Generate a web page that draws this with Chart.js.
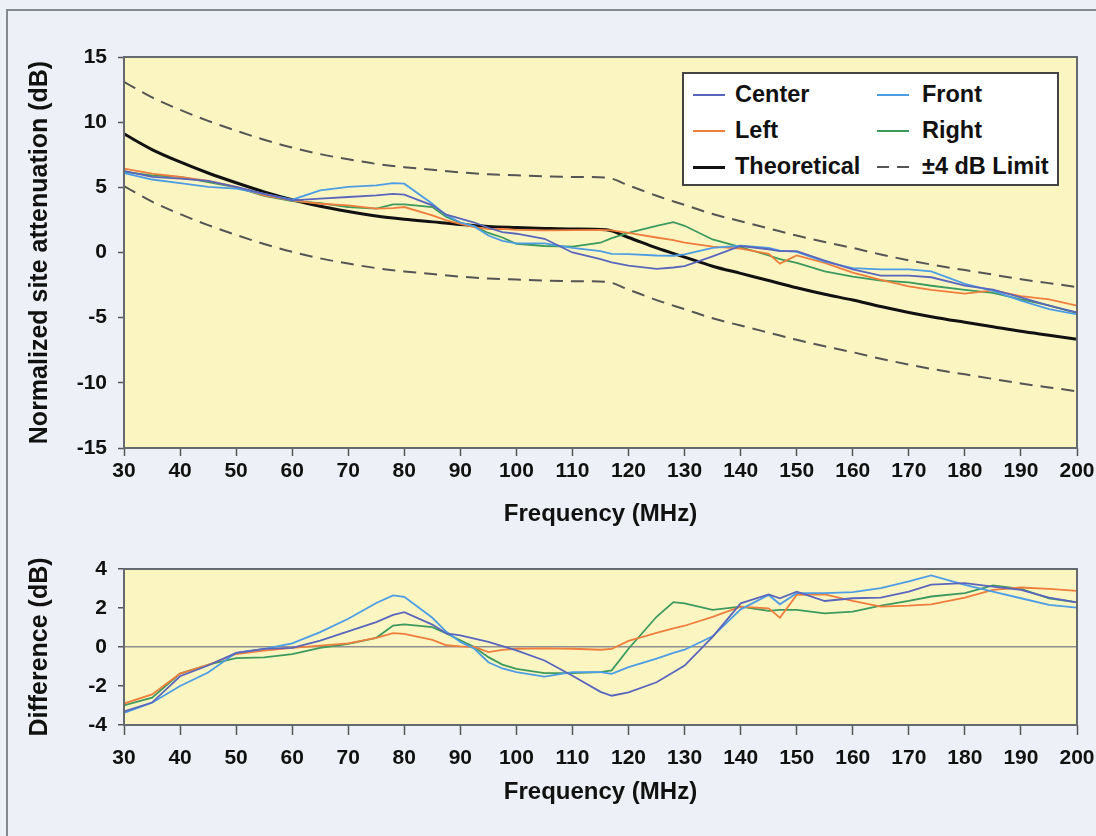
<!DOCTYPE html>
<html><head><meta charset="utf-8">
<script src="https://cdn.jsdelivr.net/npm/chart.js@4.4.1/dist/chart.umd.min.js"></script>
<style>
html,body{margin:0;padding:0;background:#edf1f7;width:1096px;height:836px;overflow:hidden;font-family:"Liberation Sans",Arial,sans-serif;}
#frame{position:absolute;left:6px;top:9px;width:1100px;height:840px;border-top:2px solid #858a90;border-left:2px solid #858a90;}
#c1{position:absolute;left:0;top:0;}
#c2{position:absolute;left:0;top:545px;}
#legend{position:absolute;left:682px;top:72px;width:377px;height:114px;background:#fff;border:2px solid #444;box-sizing:border-box;}
.item{position:absolute;font:bold 23.5px "Liberation Sans",Arial,sans-serif;color:#111;height:30px;line-height:30px;white-space:nowrap;}
.sw{position:absolute;width:32px;height:2px;}
</style></head>
<body>
<div id="frame"></div>
<canvas id="c1" width="1096" height="540"></canvas>
<canvas id="c2" width="1096" height="270"></canvas>
<div id="legend"></div>
<script>
// ---------------- data ----------------
const freq = [30,35,40,45,50,55,60,65,70,75,78,80,85,87.5,90,92.5,95,97.5,100,105,110,115,117,120,125,128,130,135,140,145,147,150,155,160,165,170,174,180,185,190,195,200];

const theoFreq = [30,35,40,45,50,55,60,65,70,75,80,85,90,95,100,105,110,116,120,125,130,135,140,145,150,155,160,165,170,175,180,185,190,195,200];
const theoretical = [9.1,7.9,6.95,6.1,5.35,4.65,4.05,3.55,3.15,2.8,2.55,2.35,2.15,2.0,1.92,1.85,1.8,1.75,1.15,0.35,-0.35,-1.05,-1.6,-2.15,-2.7,-3.2,-3.65,-4.15,-4.6,-5.0,-5.35,-5.7,-6.05,-6.35,-6.65];
const limitUpper = [13.1,11.9,10.95,10.1,9.35,8.65,8.05,7.55,7.15,6.8,6.55,6.35,6.15,6.0,5.92,5.85,5.8,5.75,5.15,4.35,3.65,2.95,2.4,1.85,1.3,0.8,0.35,-0.15,-0.6,-1.0,-1.35,-1.7,-2.05,-2.35,-2.65];
const limitLower = [5.1,3.9,2.95,2.1,1.35,0.65,0.05,-0.45,-0.85,-1.2,-1.45,-1.65,-1.85,-2.0,-2.08,-2.15,-2.2,-2.25,-2.85,-3.65,-4.35,-5.05,-5.6,-6.15,-6.7,-7.2,-7.65,-8.15,-8.6,-9.0,-9.35,-9.7,-10.05,-10.35,-10.65];

const centerNSA = [6.26,5.8,5.67,5.49,5.03,4.5,4.0,4.13,4.26,4.38,4.5,4.44,3.62,2.9,2.6,2.3,1.9,1.56,1.44,1.05,0.0,-0.5,-0.75,-1.0,-1.26,-1.15,-1.05,-0.3,0.5,0.25,0.1,0.1,-0.62,-1.3,-1.77,-1.77,-1.9,-2.54,-2.85,-3.45,-4.08,-4.6];
const frontNSA  = [6.1,5.6,5.33,5.03,4.9,4.5,4.05,4.77,5.03,5.15,5.33,5.28,3.74,2.85,2.3,2.0,1.3,0.9,0.7,0.7,0.35,0.1,-0.1,-0.12,-0.23,-0.25,-0.15,0.35,0.52,0.35,0.15,0.05,-0.7,-1.2,-1.3,-1.3,-1.45,-2.4,-2.95,-3.7,-4.35,-4.75];
const leftNSA   = [6.44,6.05,5.8,5.49,5.03,4.38,4.0,3.74,3.62,3.36,3.4,3.49,2.85,2.46,2.2,1.95,1.8,1.82,1.74,1.7,1.72,1.74,1.7,1.5,1.15,0.95,0.75,0.45,0.3,-0.1,-0.85,-0.23,-0.8,-1.55,-2.1,-2.6,-2.87,-3.15,-2.9,-3.35,-3.6,-4.08];
const rightNSA  = [6.18,5.92,5.8,5.41,5.0,4.35,3.95,3.79,3.49,3.36,3.7,3.69,3.49,2.72,2.3,2.0,1.5,1.15,0.67,0.5,0.45,0.75,1.1,1.5,2.05,2.33,2.05,1.0,0.41,-0.23,-0.5,-0.8,-1.45,-1.85,-2.15,-2.3,-2.55,-2.87,-3.1,-3.6,-4.05,-4.65];

const centerDiff = [-3.3,-2.85,-1.5,-0.95,-0.3,-0.1,-0.05,0.33,0.8,1.28,1.65,1.79,1.15,0.7,0.6,0.43,0.26,0.05,-0.17,-0.69,-1.47,-2.3,-2.5,-2.33,-1.81,-1.3,-0.95,0.52,2.24,2.7,2.5,2.84,2.36,2.5,2.53,2.84,3.2,3.28,3.1,2.93,2.53,2.29];
const frontDiff  = [-3.38,-2.86,-2.0,-1.31,-0.3,-0.1,0.19,0.76,1.45,2.26,2.65,2.57,1.5,0.78,0.26,-0.09,-0.78,-1.1,-1.29,-1.52,-1.29,-1.29,-1.38,-1.03,-0.6,-0.3,-0.14,0.55,1.93,2.67,2.19,2.76,2.76,2.81,3.02,3.36,3.67,3.19,2.84,2.5,2.16,2.02];
const leftDiff   = [-2.9,-2.43,-1.36,-0.91,-0.36,-0.19,-0.05,0.07,0.19,0.47,0.71,0.67,0.36,0.09,0.03,0.0,-0.26,-0.15,-0.09,-0.07,-0.09,-0.14,-0.1,0.31,0.72,0.95,1.09,1.55,2.07,1.98,1.5,2.67,2.7,2.36,2.07,2.12,2.19,2.53,2.93,3.05,2.98,2.88];
const rightDiff  = [-3.0,-2.6,-1.36,-0.91,-0.57,-0.53,-0.36,-0.05,0.16,0.47,1.1,1.16,1.02,0.69,0.34,0.0,-0.52,-0.9,-1.12,-1.34,-1.34,-1.29,-1.2,-0.09,1.55,2.3,2.24,1.9,2.07,1.85,1.9,1.9,1.72,1.81,2.12,2.36,2.59,2.76,3.16,2.98,2.5,2.29];

const xTickValues = [30,40,50,60,70,80,90,100,110,120,130,140,150,160,170,180,190,200];
const yTicksTop = [-15,-10,-5,0,5,10,15];
const yTicksBottom = [-4,-2,0,2,4];
const seriesNames = ['Center','Front','Left','Right','Theoretical','\u00b14 dB Limit'];

// ---------------- styles ----------------
const COL = {Center:'#5a66bd', Front:'#4d9de6', Left:'#ef7e3c', Right:'#3d9a5e', Theoretical:'#111111', Limit:'#555555'};
const FONT = '"Liberation Sans", Arial, sans-serif';

function pts(xs, ys){ return xs.map((x,i)=>({x:x, y:ys[i]})); }

const plotFrame = {
  id:'plotFrame',
  beforeDraw(chart){
    const {ctx, chartArea:a} = chart;
    ctx.save(); ctx.fillStyle = '#fbf5c2';
    ctx.fillRect(a.left, a.top, a.right-a.left, a.bottom-a.top); ctx.restore();
  },
  afterDraw(chart){
    const {ctx, chartArea:a} = chart;
    ctx.save(); ctx.strokeStyle = '#666a6e'; ctx.lineWidth = 2;
    ctx.strokeRect(a.left, a.top, a.right-a.left, a.bottom-a.top); ctx.restore();
  }
};

function lineDS(label, data, color, width, dash, smooth){
  const ds = {label, data, borderColor:color, borderWidth:width, borderDash:dash||[], pointRadius:0, tension:0, fill:false};
  if (smooth){ ds.cubicInterpolationMode = 'monotone'; }
  return ds;
}

function xScale(axisH, tickLen, tickPad, titlePad){
  return {
    type:'linear', min:30, max:200,
    afterBuildTicks(s){ s.ticks = xTickValues.map(v=>({value:v})); },
    afterFit(s){ s.height = axisH; s.paddingLeft = 0; s.paddingRight = 0; },
    border:{display:false},
    grid:{drawOnChartArea:false, drawTicks:true, tickLength:tickLen, tickColor:'#555', tickWidth:1.5},
    ticks:{autoSkip:false, maxRotation:0, padding:tickPad, color:'#111', font:{family:FONT, weight:'bold', size:21}},
    title:{display:true, text:'Frequency (MHz)', color:'#111', padding:{top:0,bottom:titlePad}, font:{family:FONT, weight:'bold', size:24}}
  };
}

// ---------------- top chart ----------------
new Chart(document.getElementById('c1'), {
  type:'line',
  data:{datasets:[
    lineDS('Upper limit', pts(theoFreq, limitUpper), COL.Limit, 2, [13,8], true),
    lineDS('Lower limit', pts(theoFreq, limitLower), COL.Limit, 2, [13,8], true),
    lineDS('Center', pts(freq, centerNSA), COL.Center, 1.8),
    lineDS('Front', pts(freq, frontNSA), COL.Front, 1.8),
    lineDS('Left', pts(freq, leftNSA), COL.Left, 1.8),
    lineDS('Right', pts(freq, rightNSA), COL.Right, 1.8),
    lineDS('Theoretical', pts(theoFreq, theoretical), COL.Theoretical, 3, null, true)
  ]},
  options:{
    responsive:false, animation:false, devicePixelRatio:1,
    layout:{padding:{top:57, right:19, left:0, bottom:0}},
    plugins:{legend:{display:false}, tooltip:{enabled:false}},
    scales:{
      x: xScale(92, 8, 3, 11),
      y:{
        min:-15, max:15,
        afterBuildTicks(s){ s.ticks = yTicksTop.map(v=>({value:v})); },
        afterFit(s){ s.width = 124; },
        border:{display:false},
        grid:{drawOnChartArea:false, drawTicks:true, tickLength:6, tickColor:'#555', tickWidth:1.5},
        ticks:{padding:11, color:'#111', font:{family:FONT, weight:'bold', size:21}},
        title:{display:true, text:'Normalized site attenuation (dB)', color:'#111', padding:{top:25,bottom:0}, font:{family:FONT, weight:'bold', size:25}}
      }
    }
  },
  plugins:[plotFrame]
});

// ---------------- bottom chart ----------------
new Chart(document.getElementById('c2'), {
  type:'line',
  data:{datasets:[
    lineDS('Center', pts(freq, centerDiff), COL.Center, 1.8),
    lineDS('Front', pts(freq, frontDiff), COL.Front, 1.8),
    lineDS('Left', pts(freq, leftDiff), COL.Left, 1.8),
    lineDS('Right', pts(freq, rightDiff), COL.Right, 1.8)
  ]},
  options:{
    responsive:false, animation:false, devicePixelRatio:1,
    layout:{padding:{top:24, right:19, left:0, bottom:0}},
    plugins:{legend:{display:false}, tooltip:{enabled:false}},
    scales:{
      x: xScale(90, 10, 11, 8),
      y:{
        min:-4, max:4,
        ticks:{stepSize:1, padding:11, color:'#111', font:{family:FONT, weight:'bold', size:21},
               callback:(v)=> yTicksBottom.includes(v) ? String(v) : ''},
        afterFit(s){ s.width = 124; },
        border:{display:false},
        grid:{drawOnChartArea:true, color:(c)=> (c.tick && c.tick.value===0) ? '#8f8f8f' : 'rgba(0,0,0,0)', lineWidth:1.5,
              drawTicks:true, tickLength:6, tickColor:'#555', tickWidth:1.5},
        title:{display:true, text:'Difference (dB)', color:'#111', padding:{top:25,bottom:0}, font:{family:FONT, weight:'bold', size:25}}
      }
    }
  },
  plugins:[plotFrame]
});

// ---------------- legend (HTML text) ----------------
(function(){
  const lg = document.getElementById('legend');
  const cells = [
    {name:seriesNames[0], color:COL.Center, col:0, row:0},
    {name:seriesNames[1], color:COL.Front, col:1, row:0},
    {name:seriesNames[2], color:COL.Left, col:0, row:1},
    {name:seriesNames[3], color:COL.Right, col:1, row:1},
    {name:seriesNames[4], color:COL.Theoretical, col:0, row:2, w:3},
    {name:seriesNames[5], color:COL.Limit, col:1, row:2, dash:true}
  ];
  cells.forEach(c=>{
    const top = 5 + c.row*36;
    const swX = c.col ? 193 : 9;
    const txX = c.col ? 238 : 51;
    const sw = document.createElement('div');
    sw.className = 'sw';
    sw.style.left = swX+'px'; sw.style.top = (top+15)+'px';
    if (c.w) sw.style.height = c.w+'px';
    if (c.dash){ sw.style.background = 'repeating-linear-gradient(90deg,'+c.color+' 0 12px, transparent 12px 20px)'; }
    else sw.style.background = c.color;
    lg.appendChild(sw);
    const t = document.createElement('div');
    t.className = 'item'; t.style.left = txX+'px'; t.style.top = top+'px';
    t.textContent = c.name;
    lg.appendChild(t);
  });
})();
</script>
</body></html>
